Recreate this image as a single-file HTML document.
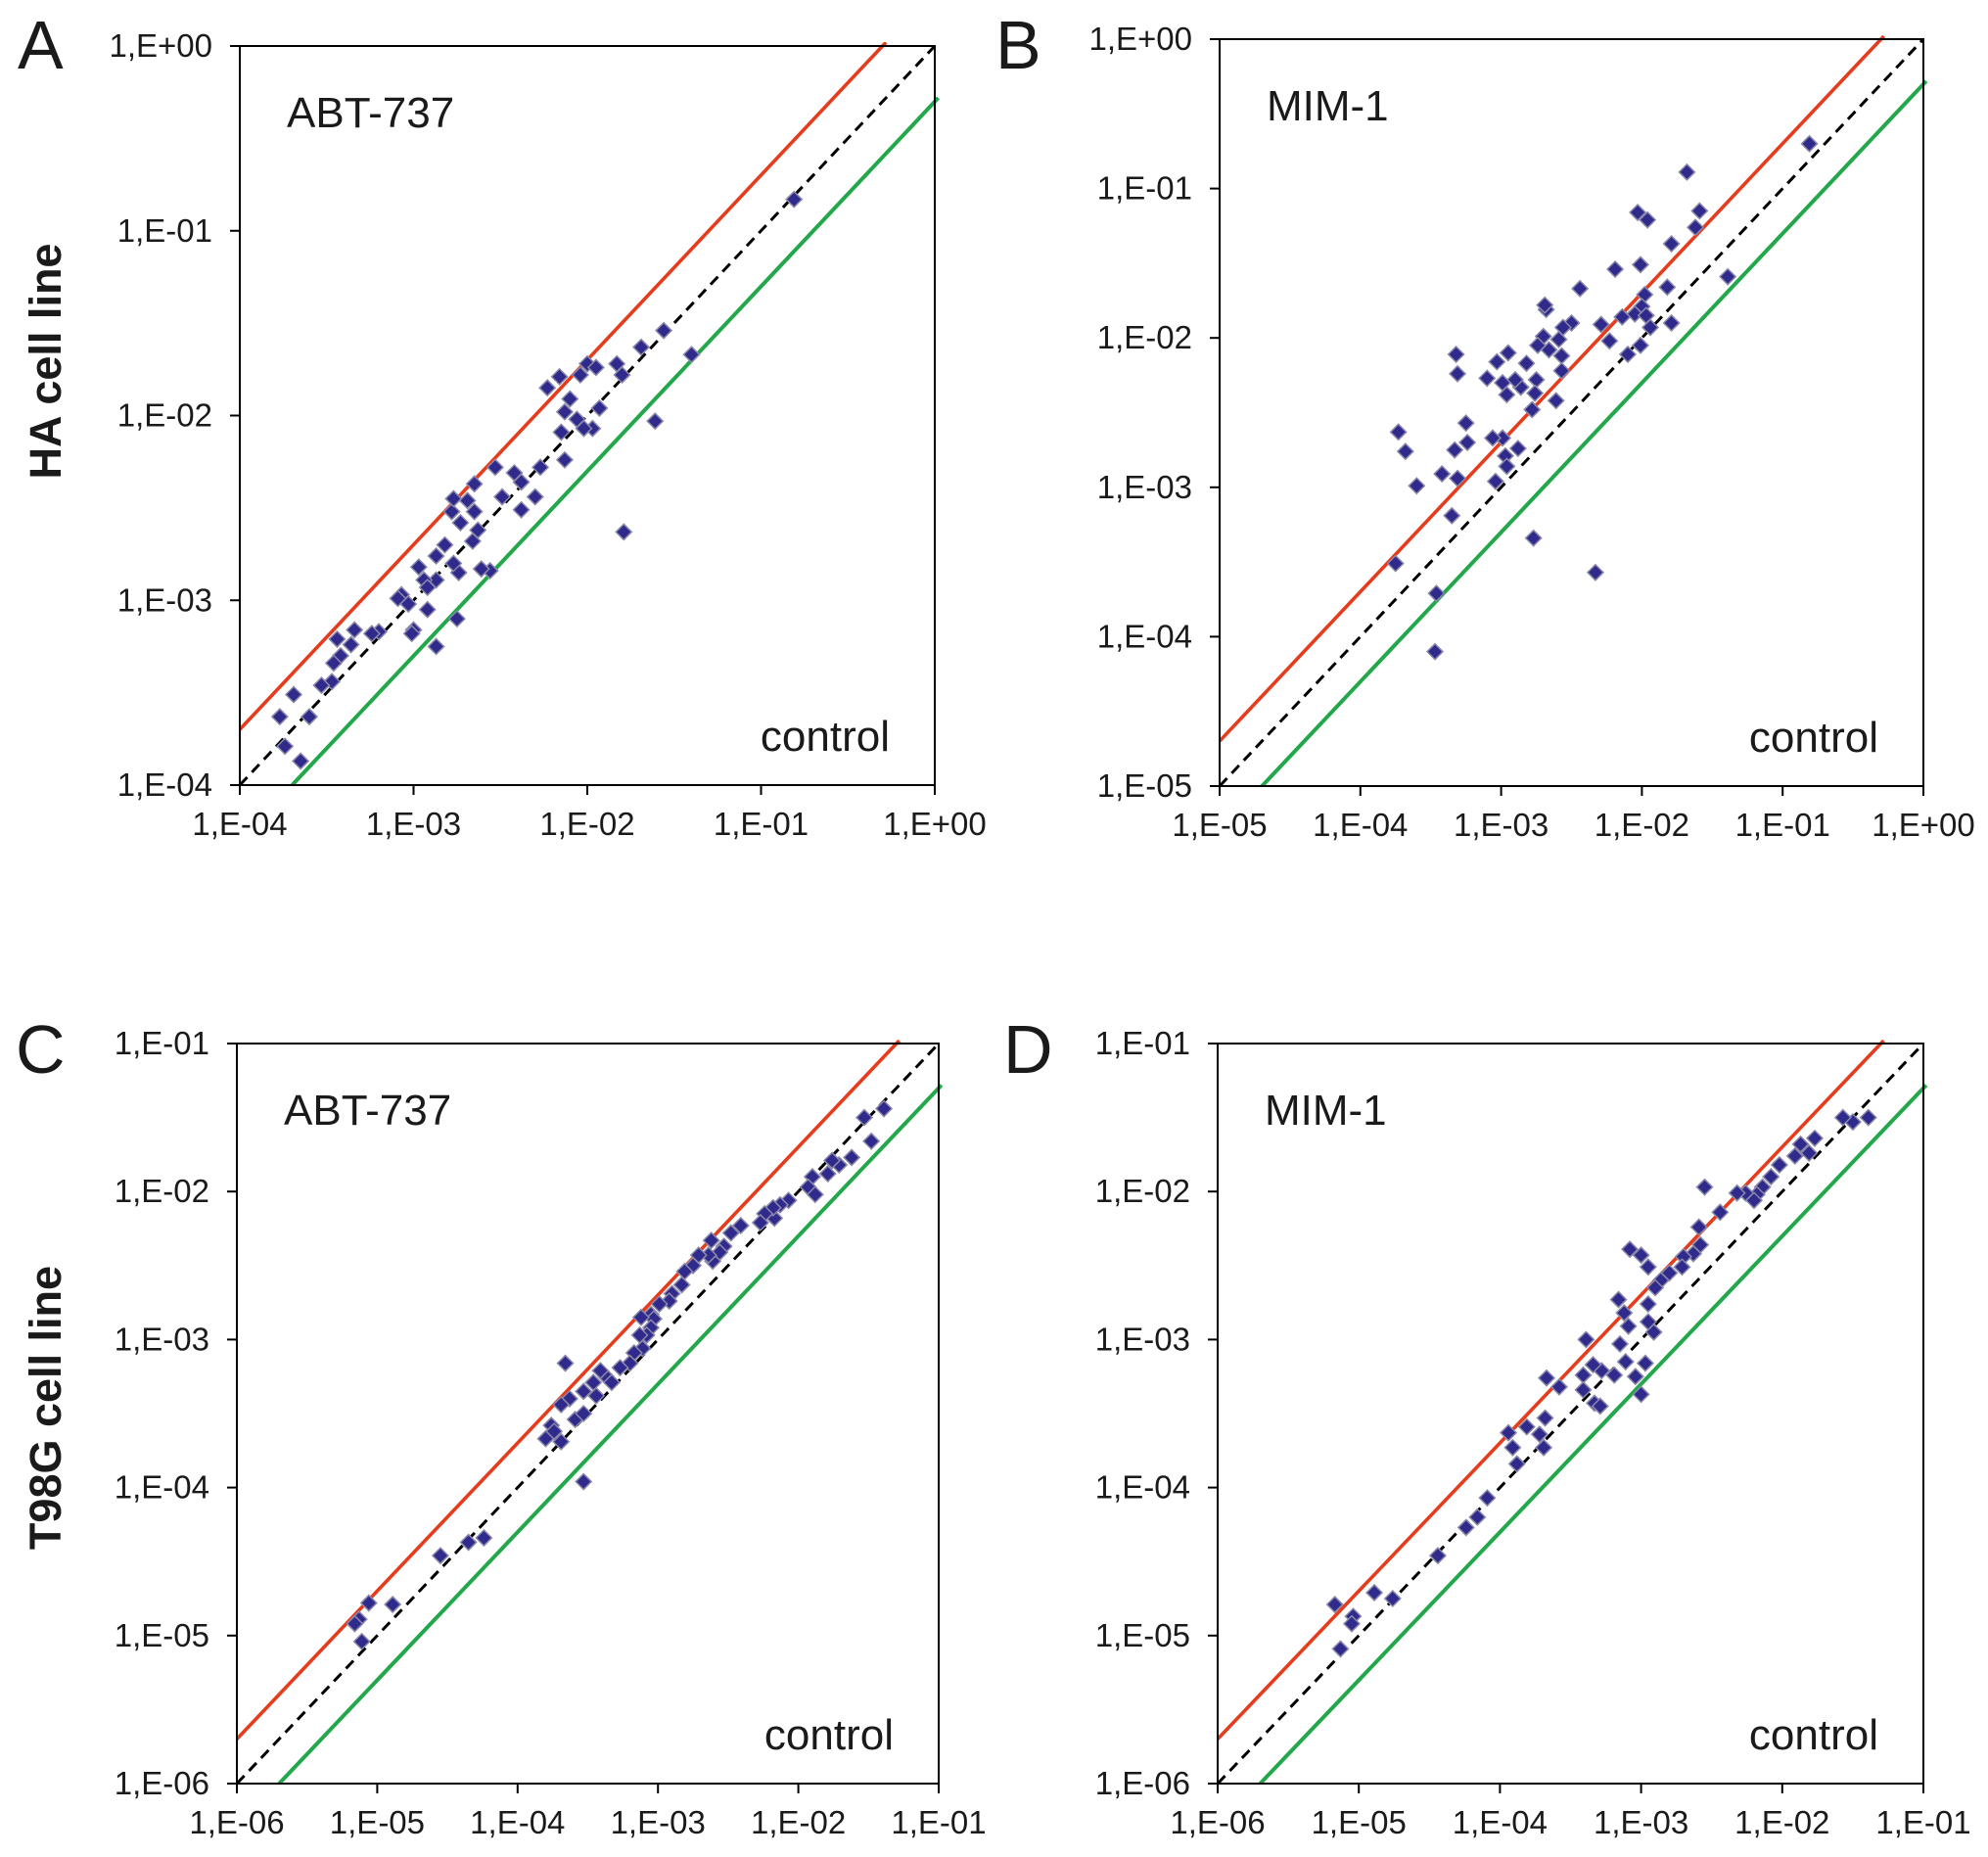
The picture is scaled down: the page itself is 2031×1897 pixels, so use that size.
<!DOCTYPE html>
<html><head><meta charset="utf-8"><style>
html,body{margin:0;padding:0;background:#fff;}
svg{display:block;font-family:"Liberation Sans",Arial,sans-serif;}
</style></head><body>
<svg id="fig" width="2031" height="1897" viewBox="0 0 2031 1897" xmlns="http://www.w3.org/2000/svg"></svg>
<script>
// Panel A (HA, ABT-737): log10 x (control), log10 y
const aX = [-0.81,-1.40,-1.56,-1.61,-1.69,-1.80,-1.83,-1.79,-2.00,-1.95,-2.04,-1.93,-1.97,-2.02,-2.06,-2.10,-2.13,-2.15,-2.13,-2.23,-2.16,-2.27,-2.30,-2.38,-2.38,-2.42,-2.49,-2.53,-2.65,-2.65,-2.66,-2.69,-2.73,-2.78,-2.82,-2.77,-2.56,-2.61,-2.63,-2.74,-2.75,-2.77,-2.87,-2.87,-2.97,-2.94,-2.92,-3.07,-3.03,-2.92,-3.00,-3.01,-3.09,-3.20,-3.34,-2.87,-3.24,-3.44,-3.42,-3.36,-3.46,-3.47,-3.53,-3.60,-3.69,-3.77,-3.74,-3.65];
const aY = [-0.83,-1.67,-1.54,-2.03,-1.63,-1.78,-1.72,-2.63,-1.72,-1.74,-1.78,-1.96,-2.07,-2.07,-2.02,-1.91,-1.98,-2.09,-2.24,-1.85,-1.79,-2.28,-2.44,-2.36,-2.51,-2.31,-2.44,-2.28,-2.37,-2.52,-2.68,-2.46,-2.58,-2.52,-2.70,-2.45,-2.84,-2.83,-2.62,-2.85,-3.10,-2.80,-2.76,-2.89,-2.82,-2.89,-2.93,-2.97,-3.02,-3.05,-3.16,-3.18,-2.99,-3.17,-3.16,-3.25,-3.18,-3.21,-3.30,-3.24,-3.34,-3.44,-3.46,-3.63,-3.51,-3.63,-3.79,-3.87];
// Panel B (HA, MIM-1)
const bX = [-0.81,-1.68,-1.59,-1.62,-2.03,-1.96,-2.01,-2.19,-1.79,-1.39,-1.82,-1.79,-1.98,-2.00,-2.05,-1.97,-2.14,-2.01,-1.94,-2.10,-2.23,-2.29,-2.44,-2.50,-2.56,-2.57,-2.59,-2.68,-2.70,-2.57,-2.66,-2.61,-2.75,-2.76,-2.82,-2.78,-2.74,-2.86,-2.69,-2.90,-2.95,-3.03,-3.10,-2.99,-2.96,-2.99,-2.97,-2.88,-2.96,-3.06,-3.04,-2.77,-2.33,-3.32,-3.31,-3.25,-3.24,-3.33,-3.31,-3.42,-3.35,-3.60,-3.73,-3.68,-3.75,-3.46,-3.47];
const bY = [-0.70,-0.89,-1.15,-1.26,-1.16,-1.21,-1.51,-1.54,-1.37,-1.59,-1.66,-1.90,-1.71,-1.79,-1.84,-1.85,-1.86,-2.05,-1.93,-2.11,-2.02,-1.91,-1.67,-1.90,-1.93,-2.12,-2.01,-1.81,-1.99,-2.22,-2.08,-2.42,-2.28,-2.37,-2.17,-2.48,-2.05,-2.33,-1.78,-2.28,-2.10,-2.16,-2.27,-2.30,-2.38,-2.67,-2.79,-2.74,-2.86,-2.67,-2.96,-3.34,-3.57,-2.11,-2.24,-2.57,-2.70,-2.75,-2.94,-2.91,-3.19,-2.99,-2.63,-2.76,-3.51,-3.71,-4.10];
// Panel C (T98G, ABT-737)
const cX = [-1.39,-1.53,-1.48,-1.62,-1.71,-1.76,-1.79,-1.90,-1.93,-1.88,-2.07,-2.13,-2.17,-2.18,-2.24,-2.27,-2.41,-2.48,-2.53,-2.56,-2.61,-2.64,-2.62,-2.71,-2.75,-2.81,-2.83,-2.90,-2.92,-2.99,-3.05,-3.03,-3.12,-3.05,-3.08,-3.13,-3.11,-3.17,-3.20,-3.27,-3.37,-3.33,-3.41,-3.46,-3.53,-3.44,-3.63,-3.69,-3.59,-3.76,-3.74,-3.80,-3.66,-3.69,-3.53,-3.53,-4.24,-4.35,-4.55,-4.89,-5.06,-5.13,-5.16,-5.11];
const cY = [-1.44,-1.50,-1.66,-1.77,-1.82,-1.79,-1.88,-1.90,-1.97,-2.02,-2.06,-2.09,-2.18,-2.11,-2.15,-2.21,-2.23,-2.28,-2.37,-2.41,-2.47,-2.43,-2.33,-2.43,-2.50,-2.54,-2.63,-2.69,-2.74,-2.76,-2.83,-2.86,-2.85,-2.92,-2.97,-2.97,-3.06,-3.09,-3.16,-3.19,-3.25,-3.29,-3.21,-3.29,-3.35,-3.38,-3.40,-3.44,-3.54,-3.58,-3.62,-3.67,-3.16,-3.69,-3.50,-3.96,-4.34,-4.37,-4.46,-4.79,-4.78,-4.89,-4.92,-5.04];
// Panel D (T98G, MIM-1)
const dX = [-1.39,-1.50,-1.57,-1.77,-1.81,-1.87,-1.91,-2.02,-2.08,-2.14,-2.18,-2.20,-2.26,-2.32,-2.44,-2.59,-2.55,-2.58,-2.63,-2.70,-2.71,-2.80,-2.86,-2.90,-2.95,-2.95,-2.91,-3.09,-3.15,-3.11,-3.19,-2.97,-3.04,-3.00,-3.28,-3.12,-3.08,-3.00,-2.95,-3.16,-3.39,-3.34,-3.41,-3.41,-3.33,-3.29,-3.67,-3.58,-3.68,-3.81,-3.72,-3.94,-3.91,-3.88,-3.69,-4.09,-4.16,-4.24,-4.44,-4.76,-4.89,-5.04,-5.05,-5.17,-5.13];
const dY = [-1.50,-1.53,-1.50,-1.64,-1.74,-1.68,-1.76,-1.82,-1.90,-1.97,-2.02,-2.06,-2.01,-2.01,-2.14,-2.24,-1.97,-2.36,-2.42,-2.44,-2.51,-2.55,-2.60,-2.65,-2.76,-2.88,-2.95,-2.91,-3.03,-3.15,-3.24,-3.16,-3.25,-3.37,-3.21,-2.82,-2.39,-2.43,-2.51,-2.73,-3.00,-3.17,-3.24,-3.34,-3.43,-3.45,-3.26,-3.32,-3.53,-3.59,-3.64,-3.63,-3.73,-3.84,-3.73,-4.07,-4.20,-4.27,-4.46,-4.75,-4.71,-4.87,-4.92,-4.79,-5.09];
// Tick labels
const ticksA = ["1,E-04","1,E-03","1,E-02","1,E-01","1,E+00"];
const ticksB = ["1,E-05","1,E-04","1,E-03","1,E-02","1,E-01","1,E+00"];
const ticksCD = ["1,E-06","1,E-05","1,E-04","1,E-03","1,E-02","1,E-01"];

const NS = "http://www.w3.org/2000/svg";
const svg = document.getElementById('fig');
function mk(tag, attrs, parent) {
  const e = document.createElementNS(NS, tag);
  for (const k in attrs) e.setAttribute(k, attrs[k]);
  (parent || svg).appendChild(e);
  return e;
}
function panel(cfg) {
  const g = mk('g', {});
  
  
  const {L, R, T, B, lo, hi} = cfg;
  const sx = v => L + (v - lo) / (hi - lo) * (R - L);
  const sy = v => B - (v - lo) / (hi - lo) * (B - T);
  const clip = 'clip-' + cfg.id;
  const cp = mk('clipPath', {id: clip}, g);
  mk('rect', {x: L, y: T - 4, width: R - L + 8, height: B - T + 4}, cp);
  const lg = mk('g', {'clip-path': 'url(#' + clip + ')'}, g);
  const log2 = Math.log10(2);
  const up = mk('line', {x1: sx(lo), y1: sy(lo + log2), x2: sx(hi - log2 + 0.02), y2: sy(hi + 0.02), stroke: '#e63c1e', 'stroke-width': 3.6}, lg);
  
  
  const dn = mk('line', {x1: sx(lo + log2), y1: sy(lo), x2: sx(hi + 0.02), y2: sy(hi - log2 + 0.02), stroke: '#22a84a', 'stroke-width': 4}, lg);
  
  
  const id = mk('line', {x1: sx(lo), y1: sy(lo), x2: sx(hi), y2: sy(hi), stroke: '#000', 'stroke-width': 3, 'stroke-dasharray': '11,7'}, lg);
  
  
  for (let i = 0; i < cfg.xs.length; i++) {
    const cx = sx(cfg.xs[i]), cy = sy(cfg.ys[i]), r = 8;
    const p = mk('polygon', {points: `${cx},${cy - r} ${cx + r},${cy} ${cx},${cy + r} ${cx - r},${cy}`, fill: '#2f2a8c', stroke: '#8a88a8', 'stroke-width': 1.5}, g);
    
    
  }
  const fr = mk('rect', {x: L, y: T, width: R - L, height: B - T, fill: 'none', stroke: '#000', 'stroke-width': 2}, g);
  
  
  for (let i = 0; i < cfg.ticks.length; i++) {
    const v = lo + i;
    mk('line', {x1: L - 10, y1: sy(v), x2: L, y2: sy(v), stroke: '#000', 'stroke-width': 2}, g);
    mk('line', {x1: sx(v), y1: B, x2: sx(v), y2: B + 10, stroke: '#000', 'stroke-width': 2}, g);
    const ty = mk('text', {x: L - 28, y: sy(v) + 11, 'text-anchor': 'end', 'font-size': 33, fill: '#1a1a1a'}, g);
    ty.textContent = cfg.ticks[i];
    
    
    const tx = mk('text', {x: sx(v), y: B + 51, 'text-anchor': 'middle', 'font-size': 33, fill: '#1a1a1a'}, g);
    tx.textContent = cfg.ticks[i];
    
    
  }
  const letter = mk('text', {x: cfg.letX, y: cfg.letY, 'font-size': 70, fill: '#1a1a1a'}, g);
  letter.textContent = cfg.letter;
  
  
  const drug = mk('text', {x: L + 48, y: T + 83, 'font-size': 44, fill: '#1a1a1a'}, g);
  drug.textContent = cfg.drug;
  
  
  const ctl = mk('text', {x: R - 46, y: B - 35, 'text-anchor': 'end', 'font-size': 44, fill: '#1a1a1a'}, g);
  ctl.textContent = 'control';
  
  
}
panel({id:'a', name:'panel-a', L:245, R:955, T:47, B:802, lo:-4, hi:0, xs:aX, ys:aY, ticks:ticksA, letter:'A', letX:18, letY:70, drug:'ABT-737'});
panel({id:'b', name:'panel-b', L:1246, R:1965, T:40, B:803, lo:-5, hi:0, xs:bX, ys:bY, ticks:ticksB, letter:'B', letX:1017, letY:70, drug:'MIM-1'});
panel({id:'c', name:'panel-c', L:242, R:959, T:1066, B:1822, lo:-6, hi:-1, xs:cX, ys:cY, ticks:ticksCD, letter:'C', letX:16, letY:1096, drug:'ABT-737'});
panel({id:'d', name:'panel-d', L:1244, R:1965, T:1066, B:1822, lo:-6, hi:-1, xs:dX, ys:dY, ticks:ticksCD, letter:'D', letX:1025, letY:1096, drug:'MIM-1'});

const t1 = mk('text', {x: 0, y: 0, transform: 'translate(62,369) rotate(-90)', 'text-anchor': 'middle', 'font-size': 45, 'font-weight': 'bold', fill: '#1a1a1a'});
t1.textContent = 'HA cell line';


const t2 = mk('text', {x: 0, y: 0, transform: 'translate(62,1438) rotate(-90)', 'text-anchor': 'middle', 'font-size': 45, 'font-weight': 'bold', fill: '#1a1a1a'});
t2.textContent = 'T98G cell line';


</script>
</body></html>
